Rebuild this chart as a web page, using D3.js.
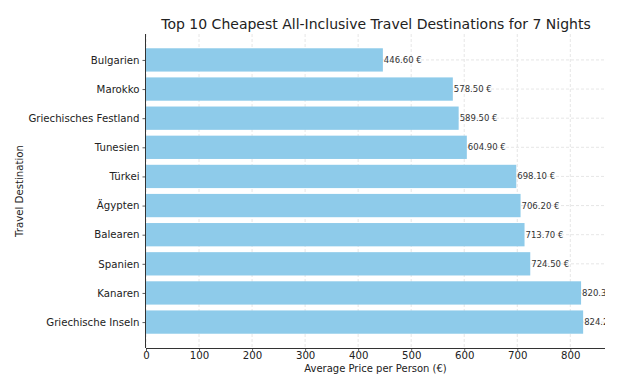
<!DOCTYPE html>
<html><head><meta charset="utf-8">
<script src="https://cdn.jsdelivr.net/npm/d3@7"></script>
<style>body{margin:0;background:#fff}text{font-family:"DejaVu Sans",sans-serif}</style>
</head><body><svg id="c" width="640" height="379"></svg>
<script>
const categories = ["Bulgarien","Marokko","Griechisches Festland","Tunesien","Türkei","Ägypten","Balearen","Spanien","Kanaren","Griechische Inseln"];
const prices = [446.6,578.5,589.5,604.9,698.1,706.2,713.7,724.5,820.3,824.2];
const xTicks = [0,100,200,300,400,500,600,700,800];

const svg = d3.select("#c");
const L=146, R=605, T=34, B=348;
const x = d3.scaleLinear().domain([0, 824.2*1.05]).range([L,R]);
const y = d3.scaleLinear().domain([-0.89, 9.89]).range([T,B]);
const bh = (y(0.8)-y(0));

svg.append("defs").append("clipPath").attr("id","clip").append("rect")
  .attr("x",L).attr("y",T).attr("width",R-L).attr("height",B-T);

// grid
const g = svg.append("g");
g.selectAll(".gx").data(xTicks).join("line")
  .attr("x1",d=>x(d)).attr("x2",d=>x(d)).attr("y1",T).attr("y2",B)
  .attr("stroke","#e0e0e0").attr("stroke-width",0.8).attr("stroke-dasharray","3,2");
g.selectAll(".gy").data(categories).join("line")
  .attr("x1",L).attr("x2",R).attr("y1",(d,i)=>y(i)).attr("y2",(d,i)=>y(i))
  .attr("stroke","#e0e0e0").attr("stroke-width",0.8).attr("stroke-dasharray","3,2");

// bars
svg.append("g").selectAll("rect").data(prices).join("rect")
  .attr("x",x(0)).attr("y",(d,i)=>y(i)-bh/2)
  .attr("width",d=>x(d)-x(0)).attr("height",bh).attr("fill","#8ecbea");

// labels
svg.append("g").attr("clip-path","url(#clip)").selectAll("text").data(prices).join("text")
  .attr("x",d=>x(d)+1).attr("y",(d,i)=>y(i)).attr("dy","0.35em")
  .attr("font-size",8.5).attr("fill","#333")
  .text(d=>d.toFixed(2)+" €");

// axes
const xa = svg.append("g").attr("transform",`translate(0,${B})`)
  .call(d3.axisBottom(x).tickValues(xTicks).tickSize(3).tickPadding(1).tickFormat(d3.format("d")));
xa.select(".domain").attr("d",`M${L},0.5H${R}`);
const ya = svg.append("g").attr("transform",`translate(${L},0)`)
  .call(d3.axisLeft(y).tickValues(d3.range(10)).tickSize(3.5).tickPadding(3).tickFormat(i=>categories[i]));
ya.select(".domain").attr("d",`M-0.5,${T}V${B}`);
[xa,ya].forEach(a=>{
  a.selectAll("text").attr("font-size",10.2).attr("fill","#222").style("font-family","DejaVu Sans");
  a.selectAll(".tick line").attr("stroke","#333").attr("stroke-width",0.8);
  a.select(".domain").attr("stroke","#333").attr("stroke-width",1);
});

svg.append("text").attr("x",(L+R)/2).attr("y",372).attr("text-anchor","middle")
  .attr("font-size",10).attr("fill","#222").text("Average Price per Person (€)");
svg.append("text").attr("transform",`translate(23,${(T+B)/2}) rotate(-90)`).attr("text-anchor","middle")
  .attr("font-size",10.2).attr("fill","#222").text("Travel Destination");
svg.append("text").attr("x",376).attr("y",29).attr("text-anchor","middle")
  .attr("font-size",14).attr("fill","#222").text("Top 10 Cheapest All-Inclusive Travel Destinations for 7 Nights");
</script></body></html>
